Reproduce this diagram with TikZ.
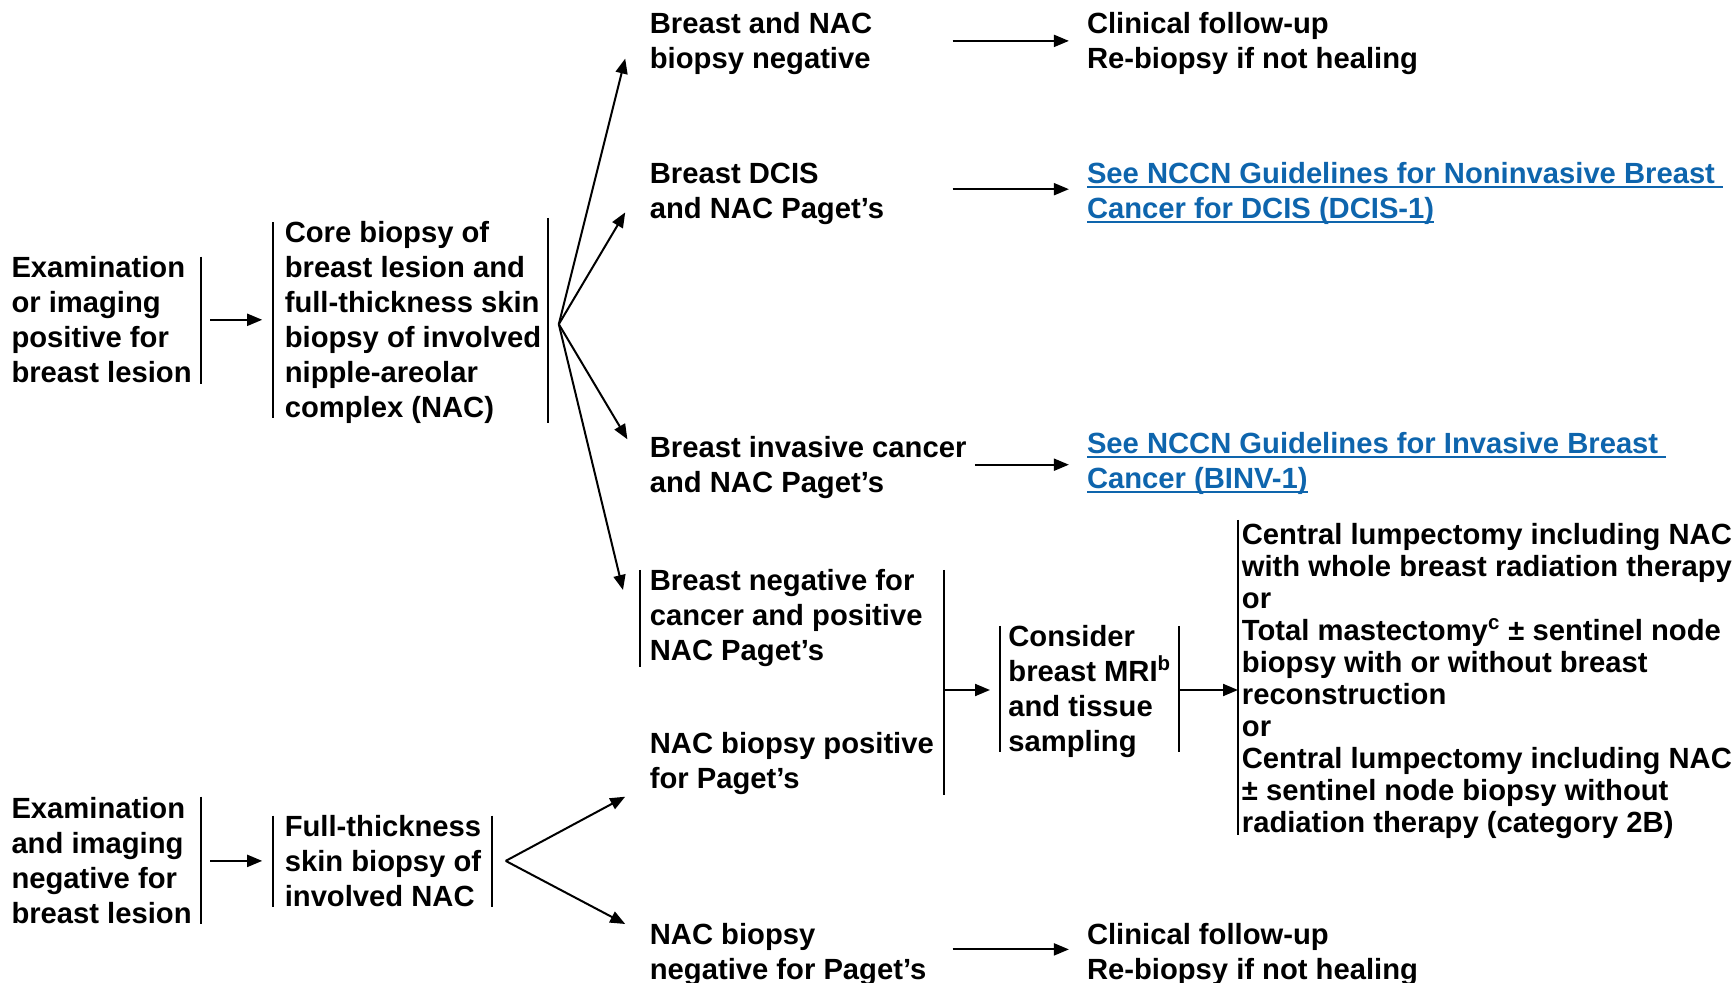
\documentclass[tikz,border=0pt]{standalone}
\usepackage{fontspec}
\setmainfont{Liberation Sans}
\usetikzlibrary{arrows.meta}
\definecolor{linkblue}{RGB}{14,101,173}
\newlength\ulwd
\newcommand\linkul[1]{\settowidth\ulwd{#1}\rlap{\rule[-2.2pt]{\ulwd}{1pt}}#1}
\begin{document}
\begin{tikzpicture}[x=0.5pt,y=-0.5pt,
  txt/.style={anchor=base west, inner sep=0pt, align=left, font=\bfseries\fontsize{14.6}{17.5}\selectfont},
  txtsm/.style={txt, font=\bfseries\fontsize{14.6}{16}\selectfont},
  link/.style={txt, text=linkblue},
  bar/.style={line width=1pt},
  arr/.style={line width=1pt, -{Triangle[length=7.5pt,width=6pt]}}]
\useasboundingbox (0,0) rectangle (1735,983);
% ---------- text nodes (positioned at the baseline of their last line) ----------
\node[txt] (A1) at (11.1,382.7) {Examination\\or imaging\\positive for\\breast lesion};
\node[txt] (core) at (284.4,417.3) {Core biopsy of\\breast lesion and\\full-thickness skin\\biopsy of involved\\nipple-areolar\\complex (NAC)};
\node[txt] (neg) at (649.5,68.2) {Breast and NAC\\biopsy negative};
\node[txt] (fu1) at (1086.6,68.2) {Clinical follow-up\\Re-biopsy if not healing};
\node[txt] (dcis) at (649.5,218.7) {Breast DCIS\\and NAC Paget’s};
\node[link] (link1) at (1086.6,218.7) {\linkul{See NCCN Guidelines for Noninvasive Breast\ }\\\linkul{Cancer for DCIS (DCIS-1)}};
\node[txt] (inv) at (649.5,493) {Breast invasive cancer\\and NAC Paget’s};
\node[link] (link2) at (1086.6,488.7) {\linkul{See NCCN Guidelines for Invasive Breast\ }\\\linkul{Cancer (BINV-1)}};
\node[txt] (bneg) at (649.5,661) {Breast negative for\\cancer and positive\\NAC Paget’s};
\node[txt] (nacpos) at (649.5,788.5) {NAC biopsy positive\\for Paget’s};
\node[txt] (mri) at (1008,751) {Consider\\breast MRI\textsuperscript{b}\\and tissue\\sampling};
\node[txtsm] (surg) at (1241.5,832.4) {Central lumpectomy including NAC\\with whole breast radiation therapy\\or\\Total mastectomy\textsuperscript{c} ± sentinel node\\biopsy with or without breast\\reconstruction\\or\\Central lumpectomy including NAC\\± sentinel node biopsy without\\radiation therapy (category 2B)};
\node[txt] (A2) at (11.1,923.8) {Examination\\and imaging\\negative for\\breast lesion};
\node[txt] (ftsb) at (284.4,906.5) {Full-thickness\\skin biopsy of\\involved NAC};
\node[txt] (nacneg) at (649.5,979) {NAC biopsy\\negative for Paget’s};
\node[txt] (fu2) at (1086.6,979) {Clinical follow-up\\Re-biopsy if not healing};
% ---------- bars ----------
\draw[bar] (201.4,256.7) -- (201.4,384);
\draw[bar] (273.3,222.4) -- (273.3,418.3);
\draw[bar] (547.7,218) -- (547.7,422.7);
\draw[bar] (640,570) -- (640,667);
\draw[bar] (944,570) -- (944,795);
\draw[bar] (1000,626) -- (1000,752);
\draw[bar] (1179,626) -- (1179,752);
\draw[bar] (1238,520) -- (1238,835);
\draw[bar] (201.4,796.7) -- (201.4,924);
\draw[bar] (273.3,815.5) -- (273.3,907.3);
\draw[bar] (492.4,815.5) -- (492.4,907.3);
% ---------- connector end points ----------
\coordinate (a1out) at (210.2,319.8);
\coordinate (corein) at (262.2,319.8);
\coordinate (fan1) at (558.8,324.2);
\coordinate (negin) at (625.2,58.6);
\coordinate (dcisin) at (625.2,212.4);
\coordinate (invin) at (627.4,439.3);
\coordinate (bnegin) at (623,590);
\coordinate (negout) at (952.7,40.9);
\coordinate (fu1in) at (1068.9,40.9);
\coordinate (dcisout) at (952.7,189.2);
\coordinate (link1in) at (1068.9,189.2);
\coordinate (invout) at (974.8,464.7);
\coordinate (link2in) at (1068.9,464.7);
\coordinate (pagout) at (944,690);
\coordinate (mriin) at (990,690);
\coordinate (mriout) at (1179,690);
\coordinate (surgin) at (1238,690);
\coordinate (a2out) at (210.2,860.9);
\coordinate (ftsbin) at (262.2,860.9);
\coordinate (fan2) at (505.7,860.9);
\coordinate (nacposin) at (625.2,796.7);
\coordinate (nacnegin) at (625.2,924);
\coordinate (nacnegout) at (952.7,949.4);
\coordinate (fu2in) at (1068.9,949.4);
% ---------- connectors ----------
\draw[arr] (a1out) -- (corein);
\draw[arr] (fan1) -- (negin);
\draw[arr] (fan1) -- (dcisin);
\draw[arr] (fan1) -- (invin);
\draw[arr] (fan1) -- (bnegin);
\draw[arr] (negout) -- (fu1in);
\draw[arr] (dcisout) -- (link1in);
\draw[arr] (invout) -- (link2in);
\draw[arr] (pagout) -- (mriin);
\draw[arr] (mriout) -- (surgin);
\draw[arr] (a2out) -- (ftsbin);
\draw[arr] (fan2) -- (nacposin);
\draw[arr] (fan2) -- (nacnegin);
\draw[arr] (nacnegout) -- (fu2in);
\end{tikzpicture}
\end{document}
